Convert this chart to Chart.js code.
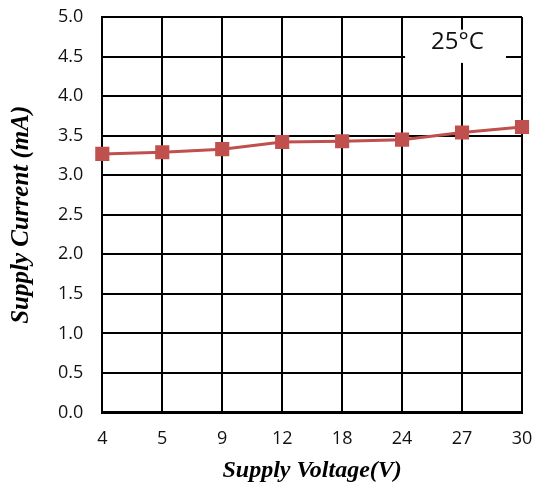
<!DOCTYPE html>
<html>
<head>
<meta charset="utf-8">
<script src="https://cdn.jsdelivr.net/npm/chart.js@4"></script>
<style>
  html, body { margin: 0; padding: 0; background: #fff; }
  #wrap { width: 535px; height: 491px; }
</style>
</head>
<body>
<div id="wrap"><canvas id="currentChart"></canvas></div>
<script>
// supply voltage (V) categories and measured supply current (mA)
const voltages = ['4', '5', '9', '12', '18', '24', '27', '30'];
const currents = [3.27, 3.29, 3.33, 3.42, 3.43, 3.45, 3.54, 3.61];
const tempLabel = '25\u00B0C';

// white label box in the upper right corner of the plot
const tempBox = {
    id: 'tempBox',
    beforeDatasetsDraw(chart) {
        const ctx = chart.ctx;
        const x = chart.scales.x;
        const y = chart.scales.y;
        const left = x.getPixelForValue(5) + 3;
        const right = x.getPixelForValue(7) - 16;
        const top = y.getPixelForValue(4.84);
        const bottom = y.getPixelForValue(4.42);
        ctx.save();
        ctx.fillStyle = '#fff';
        ctx.fillRect(left, top, right - left, bottom - top);
        ctx.fillStyle = '#111';
        ctx.font = '24px "Open Sans", sans-serif';
        ctx.textAlign = 'center';
        ctx.textBaseline = 'middle';
        ctx.fillText(tempLabel, (left + right) / 2 + 2, (top + bottom) / 2 - 4);
        ctx.restore();
    }
};

const ctx = document.getElementById('currentChart').getContext('2d');
new Chart(ctx, {
    type: 'line',
    data: {
        labels: voltages,
        datasets: [{
            data: currents,
            borderColor: '#C0504D',
            backgroundColor: '#C0504D',
            borderWidth: 3,
            pointStyle: 'rect',
            pointRadius: 10,
            pointBorderWidth: 0,
            tension: 0
        }]
    },
    options: {
        responsive: true,
        maintainAspectRatio: false,
        animation: false,
        layout: { padding: { top: 0, right: 0, left: 5, bottom: 6 } },
        plugins: { legend: { display: false }, tooltip: { enabled: false } },
        scales: {
            x: {
                offset: false,
                grid: { color: '#000', lineWidth: 2, drawTicks: false },
                border: { color: '#000', width: 3 },
                ticks: { color: '#111', padding: 15, font: { family: '"Open Sans", sans-serif', size: 18 } },
                title: {
                    display: true,
                    text: 'Supply Voltage(V)',
                    color: '#000',
                    padding: { top: -8, bottom: 0 },
                    font: { family: '"Liberation Serif", serif', size: 24, weight: 'bold', style: 'italic' }
                },
                afterFit: s => { s.paddingRight = 13; }
            },
            y: {
                min: 0,
                max: 5,
                grid: { color: '#000', lineWidth: 2, drawTicks: false },
                border: { color: '#000', width: 2 },
                ticks: {
                    stepSize: 0.5,
                    color: '#111',
                    padding: 19,
                    font: { family: '"Open Sans", sans-serif', size: 18 },
                    callback: v => v.toFixed(1)
                },
                title: {
                    display: true,
                    text: 'Supply Current (mA)',
                    color: '#000',
                    padding: { top: 2, bottom: 2 },
                    font: { family: '"Liberation Serif", serif', size: 25, weight: 'bold', style: 'italic' }
                },
                afterFit: s => { s.paddingTop = 17; }
            }
        }
    },
    plugins: [tempBox]
});
</script>
</body>
</html>
